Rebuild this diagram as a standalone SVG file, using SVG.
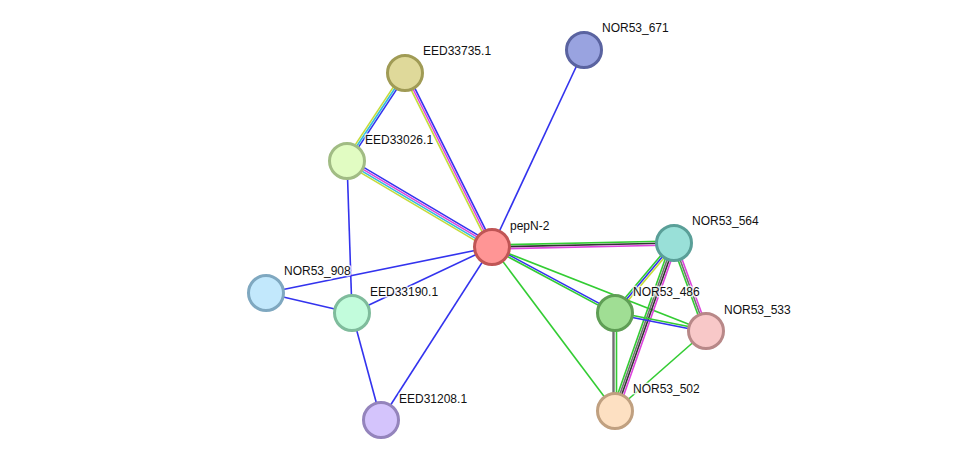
<svg xmlns="http://www.w3.org/2000/svg" width="976" height="466" viewBox="0 0 976 466">
<style>
.e{fill:none;stroke-width:1.6}
.b{stroke:#3333ee}.g{stroke:#33cc33}.m{stroke:#dd44dd}.y{stroke:#c4dc3a}.c{stroke:#33bbdd}.k{stroke:#333333}.d{stroke:#707070}
.n circle{stroke-width:3}
.n text{font-family:"Liberation Sans",Arial,sans-serif;font-size:12px;fill:#111;stroke:#fff;stroke-width:3;stroke-opacity:0.8;paint-order:stroke;stroke-linejoin:round}
</style>
<rect width="976" height="466" fill="#fff"/>
<g id="connectors">
<line class="e y" x1="403.33" y1="71.9" x2="345.33" y2="159.9"/>
<line class="e c" x1="405" y1="73" x2="347" y2="161"/>
<line class="e b" x1="406.67" y1="74.1" x2="348.67" y2="162.1"/>
<line class="e y" x1="403.21" y1="73.89" x2="490.21" y2="247.89"/>
<line class="e m" x1="405" y1="73" x2="492" y2="247"/>
<line class="e b" x1="406.79" y1="72.11" x2="493.79" y2="246.11"/>
<line class="e b" x1="348.53" y1="158.42" x2="493.53" y2="244.42"/>
<line class="e m" x1="347.51" y1="160.14" x2="492.51" y2="246.14"/>
<line class="e c" x1="346.49" y1="161.86" x2="491.49" y2="247.86"/>
<line class="e y" x1="345.47" y1="163.58" x2="490.47" y2="249.58"/>
<line class="e b" x1="347" y1="161" x2="352" y2="313"/>
<line class="e b" x1="492" y1="247" x2="584" y2="50"/>
<line class="e b" x1="492" y1="247" x2="266" y2="293"/>
<line class="e b" x1="492" y1="247" x2="352" y2="313"/>
<line class="e b" x1="492" y1="247" x2="381" y2="420"/>
<line class="e b" x1="266" y1="293" x2="352" y2="313"/>
<line class="e b" x1="352" y1="313" x2="381" y2="420"/>
<line class="e g" x1="492" y1="245" x2="674" y2="241"/>
<line class="e k" x1="492" y1="247" x2="674" y2="243"/>
<line class="e m" x1="492" y1="249" x2="674" y2="245"/>
<line class="e b" x1="492.47" y1="246.12" x2="615.47" y2="312.12"/>
<line class="e g" x1="491.53" y1="247.88" x2="614.53" y2="313.88"/>
<line class="e g" x1="492" y1="247" x2="706" y2="331"/>
<line class="e g" x1="492" y1="247" x2="615" y2="411"/>
<line class="e g" x1="672.47" y1="241.71" x2="613.47" y2="311.71"/>
<line class="e b" x1="674" y1="243" x2="615" y2="313"/>
<line class="e y" x1="675.53" y1="244.29" x2="616.53" y2="314.29"/>
<line class="e g" x1="671.17" y1="242.01" x2="612.17" y2="410.01"/>
<line class="e d" x1="673.06" y1="242.67" x2="614.06" y2="410.67"/>
<line class="e k" x1="674.94" y1="243.33" x2="615.94" y2="411.33"/>
<line class="e m" x1="676.83" y1="243.99" x2="617.83" y2="411.99"/>
<line class="e g" x1="672.12" y1="243.68" x2="704.12" y2="331.68"/>
<line class="e d" x1="674" y1="243" x2="706" y2="331"/>
<line class="e m" x1="675.88" y1="242.32" x2="707.88" y2="330.32"/>
<line class="e g" x1="615.19" y1="312.02" x2="706.19" y2="330.02"/>
<line class="e b" x1="614.81" y1="313.98" x2="705.81" y2="331.98"/>
<line class="e d" x1="613.5" y1="313" x2="613.5" y2="411" style="stroke-width:2.4"/>
<line class="e g" x1="616.5" y1="313" x2="616.5" y2="411"/>
<line class="e g" x1="706" y1="331" x2="615" y2="411"/>
</g>
<g id="EED33735.1" class="n"><circle cx="405" cy="73" r="17.5" fill="#dfd99a" stroke="#a09b55"/><text x="423" y="55">EED33735.1</text></g>
<g id="NOR53_671" class="n"><circle cx="584" cy="50" r="17.5" fill="#99a3e0" stroke="#5a63a0"/><text x="602" y="32">NOR53_671</text></g>
<g id="EED33026.1" class="n"><circle cx="347" cy="161" r="17.5" fill="#e1fcc2" stroke="#a1bc84"/><text x="365" y="144">EED33026.1</text></g>
<g id="pepN-2" class="n"><circle cx="492" cy="247" r="17.5" fill="#ff9595" stroke="#c05555"/><text x="510" y="230">pepN-2</text></g>
<g id="NOR53_564" class="n"><circle cx="674" cy="243" r="17.5" fill="#99e0d8" stroke="#5a9f98"/><text x="692" y="225">NOR53_564</text></g>
<g id="NOR53_908" class="n"><circle cx="266" cy="293" r="17.5" fill="#c2e8fc" stroke="#7fa8c0"/><text x="284" y="275">NOR53_908</text></g>
<g id="EED33190.1" class="n"><circle cx="352" cy="313" r="17.5" fill="#c2fcdc" stroke="#7fbc9c"/><text x="370" y="296">EED33190.1</text></g>
<g id="NOR53_486" class="n"><circle cx="615" cy="313" r="17.5" fill="#a0de94" stroke="#5f9e55"/><text x="633" y="296">NOR53_486</text></g>
<g id="NOR53_533" class="n"><circle cx="706" cy="331" r="17.5" fill="#f8c8c8" stroke="#b88888"/><text x="724" y="314">NOR53_533</text></g>
<g id="NOR53_502" class="n"><circle cx="615" cy="411" r="17.5" fill="#fde0c2" stroke="#c0a080"/><text x="633" y="393">NOR53_502</text></g>
<g id="EED31208.1" class="n"><circle cx="381" cy="420" r="17.5" fill="#d4c4fc" stroke="#9484bc"/><text x="399" y="403">EED31208.1</text></g>
</svg>
